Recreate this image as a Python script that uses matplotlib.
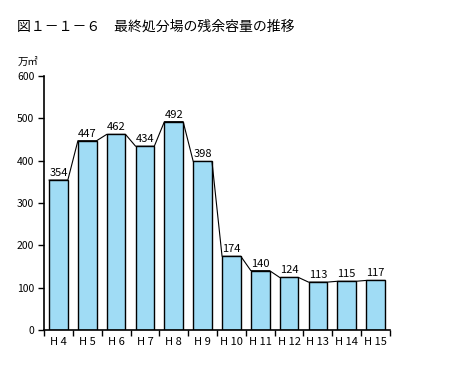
import numpy as np
import matplotlib.pyplot as plt

plt.rcParams['font.family'] = ['Noto Sans CJK JP', 'DejaVu Sans']

years = ['H 4', 'H 5', 'H 6', 'H 7', 'H 8', 'H 9', 'H 10', 'H 11', 'H 12', 'H 13', 'H 14', 'H 15']
capacity = [354, 447, 462, 434, 492, 398, 174, 140, 124, 113, 115, 117]

fig = plt.figure(figsize=(4.54, 3.65), dpi=100)
ax = fig.add_axes([0.097, 0.096, 0.762, 0.696])

x = np.arange(len(years))
w = 0.65
ax.bar(x, capacity, width=w, color='#A0DCF5', edgecolor='black', linewidth=1.0, zorder=2)

# polyline across the bar tops
lx, ly = [], []
for xi, v in zip(x, capacity):
    lx += [xi - w / 2, xi + w / 2]
    ly += [v, v]
ax.plot(lx, ly, color='black', linewidth=0.8, zorder=3)

for xi, v in zip(x, capacity):
    ax.text(xi, v + 5, str(v), ha='center', va='bottom', fontsize=8)

ax.set_xlim(-0.5, len(years) - 0.5)
ax.set_ylim(0, 600)
ax.set_yticks([0, 100, 200, 300, 400, 500, 600])
ax.set_xticks(x)
ax.set_xticklabels(years, fontsize=8)
ax.set_xticks(np.arange(-0.5, len(years)), minor=True)
ax.tick_params(axis='x', which='major', length=0, pad=5)
ax.tick_params(axis='x', which='minor', length=4, width=1, direction='out')
ax.tick_params(axis='y', length=4, width=1, direction='out', labelsize=7.5, pad=3)
for s in ['top', 'right']:
    ax.spines[s].set_visible(False)
ax.spines['left'].set_linewidth(1.2)
ax.spines['bottom'].set_linewidth(1.2)

fig.text(0.038, 0.928, '図１－１－６　最終処分場の残余容量の推移', fontsize=10, va='center', ha='left')
fig.text(0.04, 0.83, '万㎡', fontsize=7.5, va='center', ha='left')

fig.savefig('out.png', dpi=100)
